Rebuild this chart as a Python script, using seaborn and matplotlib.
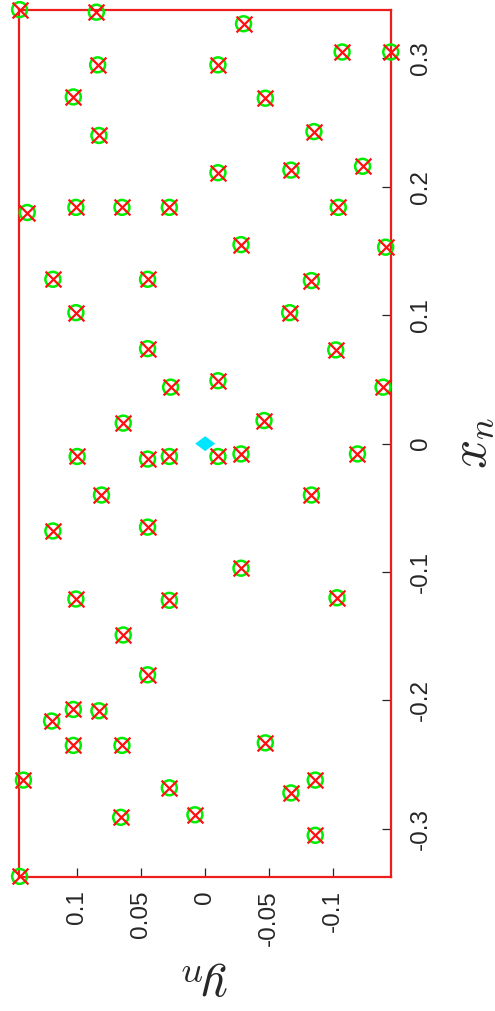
import matplotlib
matplotlib.use("Agg")
import matplotlib.pyplot as plt
import seaborn as sns

# Sample coordinates (x_n runs along the vertical axis, y_n along the horizontal one)
x_n = [0.338, 0.336, 0.327, 0.295, 0.295, 0.270, 0.240, 0.211, 0.180, 0.184,
       0.184, 0.184, 0.155, 0.128, 0.128, 0.305, 0.305, 0.269, 0.243, 0.213,
       0.216, 0.184, 0.153, 0.127, 0.102, 0.074, 0.044, 0.049, 0.016, -0.010,
       -0.012, -0.010, -0.010, -0.008, -0.040, -0.068, -0.065, -0.097, -0.121, -0.122,
       0.102, 0.073, 0.044, 0.018, -0.008, -0.040, -0.120, -0.149, -0.180, -0.207,
       -0.208, -0.216, -0.235, -0.235, -0.262, -0.268, -0.291, -0.289, -0.337, -0.233,
       -0.262, -0.272, -0.305]
y_n = [0.145, 0.085, -0.030, 0.084, -0.010, 0.103, 0.083, -0.010, 0.139, 0.101,
       0.065, 0.028, -0.028, 0.119, 0.045, -0.107, -0.145, -0.047, -0.085, -0.067,
       -0.123, -0.104, -0.141, -0.083, 0.101, 0.045, 0.027, -0.010, 0.064, 0.100,
       0.045, 0.028, -0.010, -0.028, 0.081, 0.119, 0.045, -0.028, 0.101, 0.028,
       -0.066, -0.102, -0.139, -0.046, -0.119, -0.083, -0.103, 0.064, 0.045, 0.103,
       0.083, 0.120, 0.103, 0.065, 0.142, 0.028, 0.066, 0.008, 0.145, -0.047,
       -0.086, -0.067, -0.086]
centre_x = [0.0]
centre_y = [0.0]

xn_ticks = [-0.3, -0.2, -0.1, 0.0, 0.1, 0.2, 0.3]
xn_ticklabels = ["-0.3", "-0.2", "-0.1", "0", "0.1", "0.2", "0.3"]
yn_ticks = [-0.1, -0.05, 0.0, 0.05, 0.1]
yn_ticklabels = ["-0.1", "-0.05", "0", "0.05", "0.1"]
xn_limits = (-0.3375, 0.3377)
yn_limits = (-0.1452, 0.1452)

sns.set_style("white")
plt.rcParams["font.family"] = ["Liberation Sans", "DejaVu Sans"]
plt.rcParams["mathtext.fontset"] = "cm"

axis_red = "#ee1c1c"
ink = "#262626"

fig = plt.figure(figsize=(4.95, 10.11), dpi=100)
ax = fig.add_axes([0.0390, 0.1325, 0.7509, 0.8576])

sns.scatterplot(x=y_n, y=x_n, marker="o", s=115, facecolors="none",
                edgecolor="#00ee00", linewidth=1.8, ax=ax, clip_on=False, zorder=3)
sns.scatterplot(x=y_n, y=x_n, marker="x", s=130, color="#ff1010",
                linewidth=1.6, ax=ax, clip_on=False, zorder=4)
diamond = [(-1.0, 0.0), (0.0, 0.75), (1.0, 0.0), (0.0, -0.75)]
sns.scatterplot(x=centre_y, y=centre_x, marker=diamond, s=205, color="#00e6ff",
                edgecolor="none", ax=ax, clip_on=False, zorder=5)

# horizontal axis shows y_n decreasing to the right
ax.set_xlim(yn_limits[1], yn_limits[0])
ax.set_ylim(*xn_limits)

ax.set_xticks(yn_ticks)
ax.set_xticklabels(yn_ticklabels)
ax.set_yticks(xn_ticks)
ax.set_yticklabels(xn_ticklabels)

ax.yaxis.tick_right()
ax.tick_params(axis="both", direction="in", length=6.5, width=0.9,
               color=ink, labelcolor=ink, labelsize=17.5)
ax.tick_params(axis="x", labelrotation=90, pad=9.5, top=False, bottom=True)
ax.tick_params(axis="y", labelrotation=90, pad=13.5, left=False, right=True,
               labelleft=False, labelright=True)
for lab in ax.get_yticklabels():
    lab.set_verticalalignment("center")

for side in ["left", "right", "top", "bottom"]:
    ax.spines[side].set_visible(True)
    ax.spines[side].set_color(axis_red)
    ax.spines[side].set_linewidth(1.6)

ax.set_xlabel(r"$y_n$", fontsize=37, rotation=180, color=ink)
ax.xaxis.set_label_coords(0.5, -0.0957)
ax.yaxis.set_label_position("right")
ax.set_ylabel(r"$x_n$", fontsize=37, rotation=90, color=ink)
ax.yaxis.set_label_coords(1.153, 0.5)

fig.savefig("out.png", dpi=100)
